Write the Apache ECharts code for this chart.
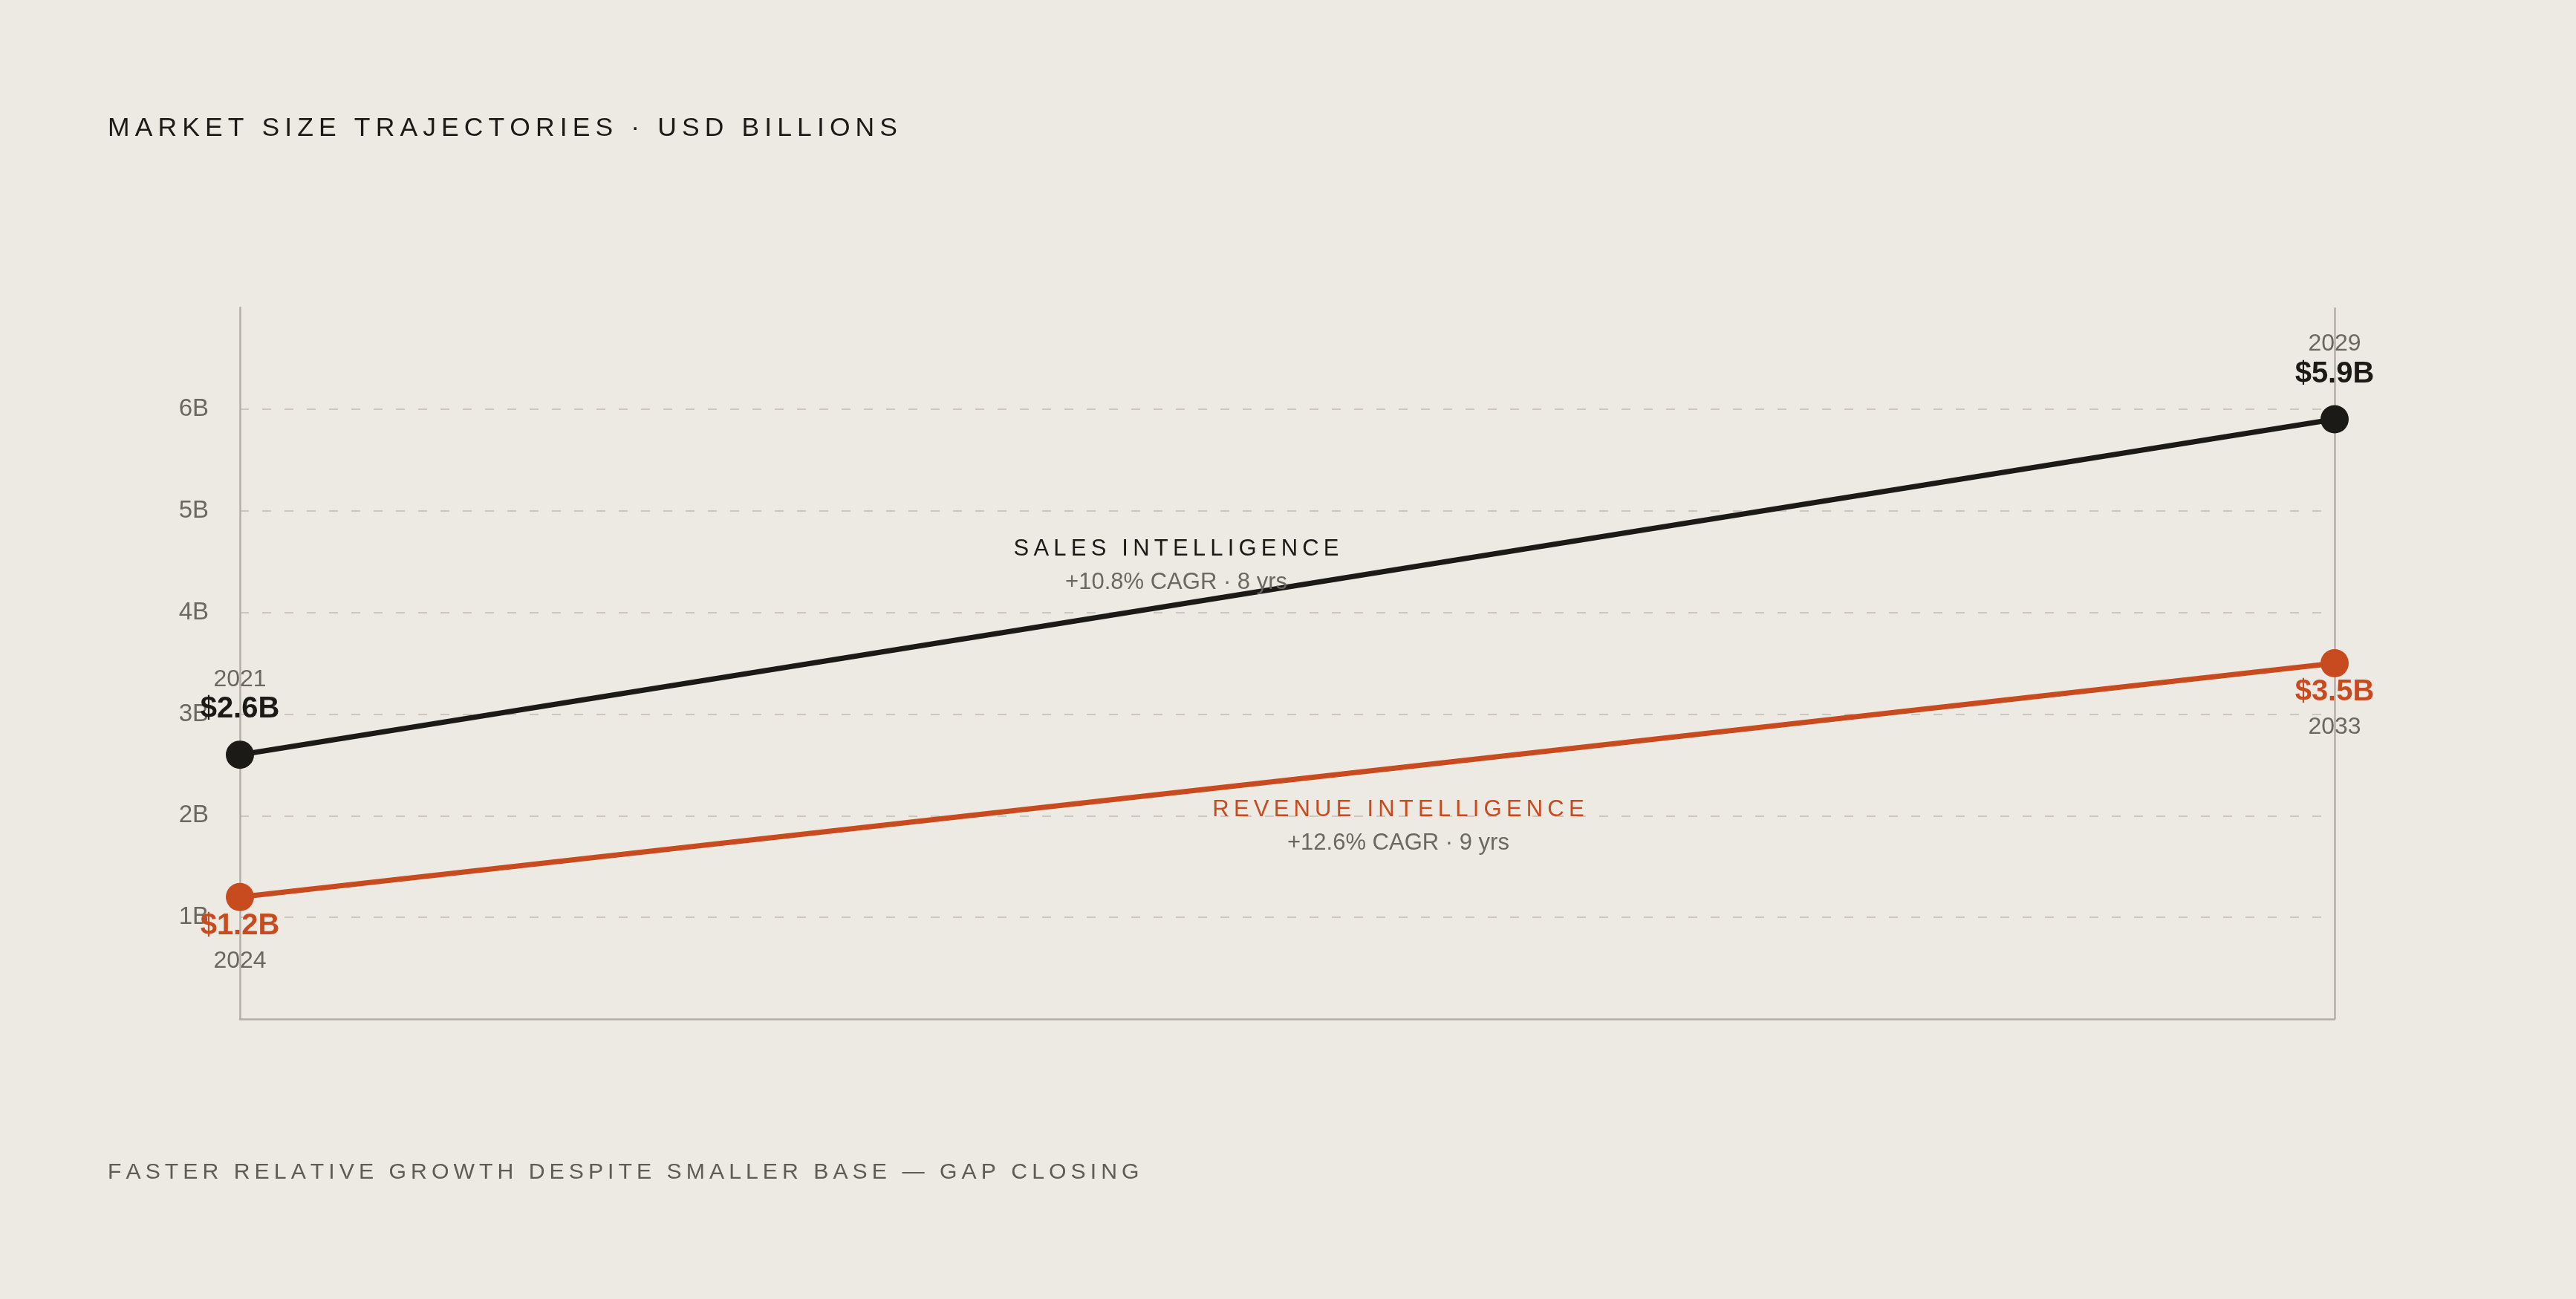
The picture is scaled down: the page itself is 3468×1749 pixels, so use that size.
<!DOCTYPE html>
<html>
<head>
<meta charset="utf-8">
<title>Market size trajectories</title>
<script src="https://cdn.jsdelivr.net/npm/echarts@6/dist/echarts.min.js"></script>
<style>
  html, body { margin: 0; padding: 0; background: #edeae3; }
  #chart { width: 3468px; height: 1749px; }
</style>
</head>
<body>
<div id="chart"></div>
<script>
'use strict';

// data
var periods = [0, 1];
var salesValues = [2.6, 5.9];
var salesYears = ['2021', '2029'];
var revenueValues = [1.2, 3.5];
var revenueYears = ['2024', '2033'];
var yTicks = [1, 2, 3, 4, 5, 6];

var titleText = 'MARKET SIZE TRAJECTORIES · USD BILLIONS';
var footerText = 'FASTER RELATIVE GROWTH DESPITE SMALLER BASE — GAP CLOSING';
var salesName = 'SALES INTELLIGENCE';
var salesNote = '+10.8% CAGR · 8 yrs';
var revenueName = 'REVENUE INTELLIGENCE';
var revenueNote = '+12.6% CAGR · 9 yrs';
// where the series names sit, in data space [x, y]
var salesNameAt = [0.447, 4.46];
var revenueNameAt = [0.553, 1.89];

var BG = '#edeae3';
var INK = '#1c1a17';
var RUST = '#c84b1f';
var GREY = '#6b6761';
var FONT = 'Liberation Sans, Arial, sans-serif';

// canvas has no letter-spacing, so pad with thin spaces
function spaced(s) {
    return s.split('').join('\u2009');
}

function fmtB(v) {
    return '$' + v.toFixed(1) + 'B';
}

function buildPoints(values, years, above, color) {
    var out = [];
    for (var i = 0; i < values.length; i++) {
        var txt = above
            ? '{y|' + years[i] + '}\n{v|' + fmtB(values[i]) + '}'
            : '{v|' + fmtB(values[i]) + '}\n{y|' + years[i] + '}';
        out.push({
            value: [periods[i], values[i]],
            label: {
                show: true,
                position: above ? 'top' : 'bottom',
                distance: above ? 22 : 0,
                formatter: txt,
                rich: {
                    v: { fontFamily: FONT, fontSize: 40, fontWeight: 'bold', color: color, lineHeight: 40 },
                    y: { fontFamily: FONT, fontSize: 32, color: GREY, lineHeight: above ? 40 : 55 }
                }
            }
        });
    }
    return out;
}

function nameMark(at, name, note, color) {
    return {
        symbol: 'circle',
        symbolSize: 0,
        silent: true,
        data: [{
            coord: at,
            label: {
                show: true,
                position: 'inside',
                formatter: '{n|' + spaced(name) + '}\n{c|' + note + '}',
                rich: {
                    n: { fontFamily: FONT, fontSize: 31, color: color, lineHeight: 45, align: 'center' },
                    c: { fontFamily: FONT, fontSize: 31, color: GREY, lineHeight: 45, align: 'center' }
                }
            }
        }]
    };
}

var chart = echarts.init(document.getElementById('chart'));

var option = {
    backgroundColor: BG,
    animation: false,
    title: [
        {
            text: spaced(titleText),
            left: 140,
            top: 150,
            textStyle: { fontFamily: FONT, fontSize: 35.5, fontWeight: 'normal', color: INK }
        },
        {
            text: spaced(footerText),
            left: 140,
            top: 1559,
            textStyle: { fontFamily: FONT, fontSize: 30.2, fontWeight: 'normal', color: '#5f5b55' }
        }
    ],
    grid: { left: 323, right: 325, top: 414, bottom: 377, containLabel: false },
    xAxis: {
        type: 'value',
        min: 0,
        max: 1,
        interval: 1,
        axisLine: { show: true, lineStyle: { color: '#b3afa8', width: 2.5 } },
        axisTick: { show: false },
        axisLabel: { show: false },
        splitLine: { show: true, showMinLine: false, lineStyle: { color: '#b3afa8', width: 2.5, type: 'solid' } }
    },
    yAxis: {
        type: 'value',
        min: 0,
        max: 7,
        interval: 1,
        axisLine: { show: true, lineStyle: { color: '#b3afa8', width: 2.5 } },
        axisTick: { show: false },
        axisLabel: {
            margin: 42,
            fontFamily: FONT,
            fontSize: 33,
            color: GREY,
            formatter: function (v) {
                return yTicks.indexOf(v) >= 0 ? v + 'B' : '';
            }
        },
        splitLine: {
            show: true,
            showMinLine: false,
            showMaxLine: false,
            lineStyle: { color: '#cbc7bf', width: 2, type: [12, 18] }
        }
    },
    series: [
        {
            name: revenueName,
            type: 'line',
            data: buildPoints(revenueValues, revenueYears, false, RUST),
            symbol: 'circle',
            symbolSize: 38,
            lineStyle: { color: RUST, width: 7 },
            itemStyle: { color: RUST },
            markPoint: nameMark(revenueNameAt, revenueName, revenueNote, RUST)
        },
        {
            name: salesName,
            type: 'line',
            data: buildPoints(salesValues, salesYears, true, INK),
            symbol: 'circle',
            symbolSize: 38,
            lineStyle: { color: INK, width: 7 },
            itemStyle: { color: INK },
            markPoint: nameMark(salesNameAt, salesName, salesNote, INK)
        }
    ]
};

chart.setOption(option);
</script>
</body>
</html>
